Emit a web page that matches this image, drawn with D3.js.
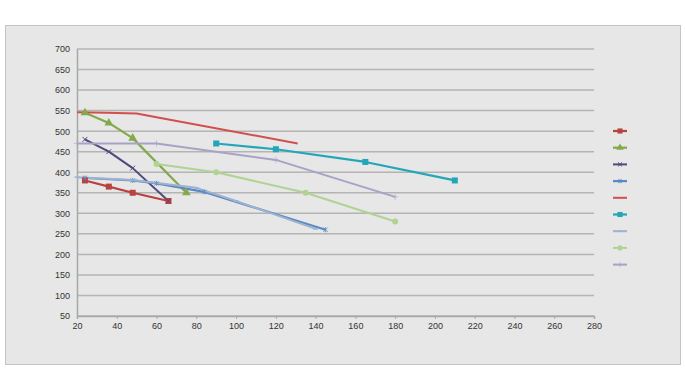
<!DOCTYPE html>
<html>
<head>
<meta charset="utf-8">
<script src="https://cdn.jsdelivr.net/npm/d3@7"></script>
<style>
  body { margin: 0; background: #fff; }
  svg text { font-family: "Liberation Sans Narrow", "Liberation Sans", Arial, sans-serif; font-size: 9px; fill: #333; }
</style>
</head>
<body>
<svg id="chart" width="685" height="369"></svg>
<script>
// x ticks / y ticks
const xTicks = [20, 40, 60, 80, 100, 120, 140, 160, 180, 200, 220, 240, 260, 280];
const yTicks = [50, 100, 150, 200, 250, 300, 350, 400, 450, 500, 550, 600, 650, 700];

// series values, [x, y]
const s1 = [[24, 380], [36, 365], [48, 350], [66, 330]];
const s2 = [[24, 545], [36, 520], [48, 483], [75, 350]];
const s3 = [[24, 480], [36, 450], [48, 410], [66, 330]];
const s4 = [[24, 386], [48, 380], [60, 373], [84, 352], [145, 260]];
const s5 = [[20, 546], [35, 545], [50, 543], [60, 534], [131, 470]];
const s6 = [[90, 470], [120, 456], [165, 425], [210, 380]];
const s7 = [[20, 388], [48, 381], [80, 362], [100, 330], [140, 262]];
const s8 = [[60, 420], [90, 400], [135, 350], [180, 280]];
const s9 = [[20, 470], [60, 470], [120, 430], [180, 340]];

const series = [
  { data: s1, color: '#b8423f', marker: 'square', width: 2.2, size: 3 },
  { data: s2, color: '#84a94a', marker: 'triangle', width: 2.2, size: 3.2 },
  { data: s3, color: '#4e4a7e', marker: 'cross', width: 2, size: 2.6 },
  { data: s4, color: '#5a8ac4', marker: 'star', width: 2.2, size: 2.6 },
  { data: s5, color: '#d14f4c', marker: 'none', width: 2, size: 0 },
  { data: s6, color: '#22a6b8', marker: 'square', width: 2.2, size: 3 },
  { data: s7, color: '#9fb2d0', marker: 'dash', width: 2, size: 2.5 },
  { data: s8, color: '#b0d394', marker: 'circle', width: 2, size: 3 },
  { data: s9, color: '#a7a2c6', marker: 'plus', width: 2, size: 2.6 }
];

const svg = d3.select('#chart');

// outer panel
svg.append('rect')
   .attr('x', 5.5).attr('y', 25.5)
   .attr('width', 675).attr('height', 339)
   .attr('fill', '#e7e7e7')
   .attr('stroke', '#c4c4c4');

const margin = { left: 77, right: 91, top: 49, bottom: 53 };
const x = d3.scaleLinear().domain([20, 280]).range([margin.left, 685 - margin.right]);
const y = d3.scaleLinear().domain([50, 700]).range([369 - margin.bottom, margin.top]);

// gridlines
svg.append('g')
   .selectAll('line')
   .data(yTicks)
   .enter()
   .append('line')
   .attr('x1', x(20)).attr('x2', x(280))
   .attr('y1', d => y(d)).attr('y2', d => y(d))
   .attr('stroke', '#b4b4b4')
   .attr('stroke-width', 1.5);

// axes
const xAxis = svg.append('g')
   .attr('transform', 'translate(0,' + y(50) + ')')
   .call(d3.axisBottom(x).tickValues(xTicks).tickSize(3).tickPadding(4));
const yAxis = svg.append('g')
   .attr('transform', 'translate(' + x(20) + ',0)')
   .call(d3.axisLeft(y).tickValues(yTicks).tickSize(0).tickPadding(7));
[xAxis, yAxis].forEach(a => {
  a.select('.domain').attr('stroke', '#a8a8a8').attr('stroke-width', 1.5);
  a.selectAll('.tick line').attr('stroke', '#a8a8a8');
  a.selectAll('text').attr('fill', '#333');
});
yAxis.select('.domain').attr('d', 'M0.5,' + y(50) + 'V' + y(700));

// draw a marker at (cx, cy)
function drawMarker(g, type, color, cx, cy, s) {
  if (type === 'square') {
    g.append('rect').attr('x', cx - s).attr('y', cy - s).attr('width', 2 * s).attr('height', 2 * s).attr('fill', color);
  } else if (type === 'triangle') {
    g.append('path').attr('d', d3.symbol(d3.symbolTriangle, s * s * 3.2)()).attr('transform', 'translate(' + cx + ',' + cy + ')').attr('fill', color);
  } else if (type === 'circle') {
    g.append('circle').attr('cx', cx).attr('cy', cy).attr('r', s).attr('fill', color);
  } else if (type === 'cross') {
    g.append('path').attr('d', d3.symbol(d3.symbolX, s * s * 2.5)()).attr('transform', 'translate(' + cx + ',' + cy + ')').attr('stroke', color).attr('stroke-width', 1).attr('fill', 'none');
  } else if (type === 'star') {
    g.append('path').attr('d', d3.symbol(d3.symbolX, s * s * 2.2)()).attr('transform', 'translate(' + cx + ',' + cy + ')').attr('stroke', color).attr('stroke-width', 0.8).attr('fill', 'none');
    g.append('line').attr('x1', cx).attr('x2', cx).attr('y1', cy - s).attr('y2', cy + s).attr('stroke', color).attr('stroke-width', 0.8);
  } else if (type === 'plus') {
    g.append('path').attr('d', d3.symbol(d3.symbolPlus, s * s * 2.2)()).attr('transform', 'translate(' + cx + ',' + cy + ')').attr('stroke', color).attr('stroke-width', 0.6).attr('fill', 'none');
  } else if (type === 'dash') {
    g.append('line').attr('x1', cx - s).attr('x2', cx + s).attr('y1', cy).attr('y2', cy).attr('stroke', color).attr('stroke-width', 1.5);
  }
}

// lines
const plot = svg.append('g');
const line = d3.line()
   .x(d => x(d[0]))
   .y(d => y(d[1]));
series.forEach(sr => {
  plot.append('path')
      .datum(sr.data)
      .attr('d', line)
      .attr('fill', 'none')
      .attr('stroke', sr.color)
      .attr('stroke-width', sr.width)
      .attr('stroke-linejoin', 'round');
});
series.forEach(sr => {
  const g = plot.append('g');
  sr.data.forEach(d => drawMarker(g, sr.marker, sr.color, x(d[0]), y(d[1]), sr.size));
});

// legend (no labels)
const legend = svg.append('g').attr('transform', 'translate(613,131)');
series.forEach((sr, i) => {
  const g = legend.append('g').attr('transform', 'translate(0,' + (i * 16.7) + ')');
  g.append('line').attr('x1', 0).attr('x2', 14).attr('y1', 0).attr('y2', 0)
   .attr('stroke', sr.color).attr('stroke-width', sr.width);
  drawMarker(g, sr.marker, sr.color, 7, 0, sr.size * 0.85);
});
</script>
</body>
</html>
